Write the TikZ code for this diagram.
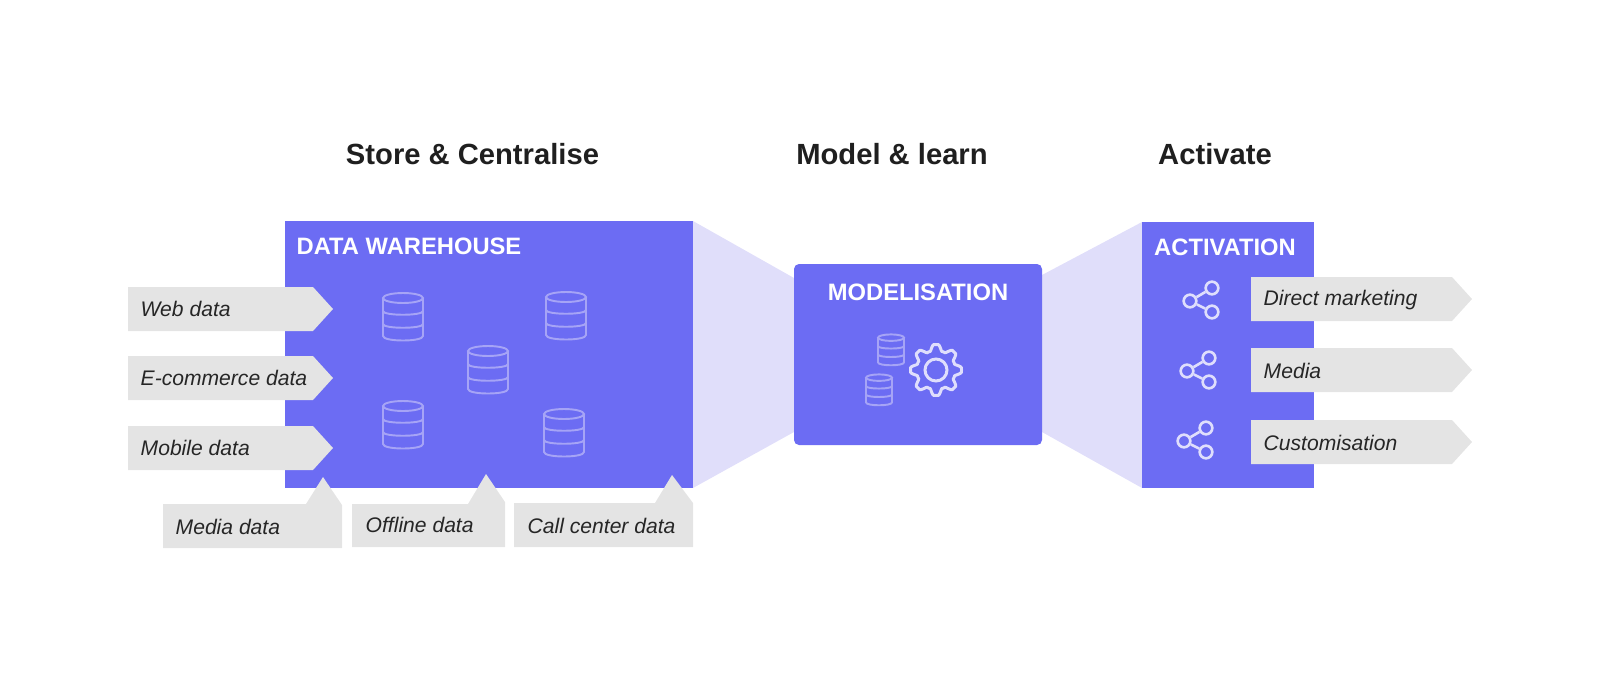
\documentclass[tikz,border=0pt]{standalone}
\usepackage{fontspec}
\setmainfont{Liberation Sans}
\usepackage{tikz}
\usetikzlibrary{calc}
\definecolor{mainblue}{HTML}{6C6CF3}
\definecolor{paleblue}{HTML}{E0DEFA}
\definecolor{taggray}{HTML}{E4E4E4}
\definecolor{dbline}{HTML}{A6A4F6}
\definecolor{iconline}{HTML}{DFDEFC}
\definecolor{tagtext}{HTML}{262626}
\tikzset{
  heading/.style={font=\bfseries\fontsize{8.3}{10}\selectfont,text=black!88,inner sep=0pt},
  boxtitle/.style={font=\bfseries\fontsize{6.75}{8}\selectfont,text=white,inner sep=0pt},
  taglabel/.style={font=\itshape\fontsize{6}{7}\selectfont,text=tagtext,anchor=west,inner sep=0pt},
  sharedot/.style={circle,draw=iconline,line width=0.75pt,minimum size=3.6pt,inner sep=0pt},
  shareline/.style={draw=iconline,line width=0.75pt},
  dbstroke/.style={draw=dbline,line width=0.55pt}
}
% database icon: x, y, scale
\newcommand{\dbicon}[3]{
  \begin{scope}[shift={(#1,#2)},scale=#3]
    \draw[dbstroke] (0,-19) circle [x radius=20,y radius=5];
    \draw[dbstroke] (-20,-19) -- (-20,19) .. controls (-20,25) and (20,25) .. (20,19) -- (20,-19);
    \draw[dbstroke] (-20,-6) .. controls (-20,-1) and (20,-1) .. (20,-6);
    \draw[dbstroke] (-20,7) .. controls (-20,12) and (20,12) .. (20,7);
  \end{scope}
}
% share icon: name, x and y of the left dot
\newcommand{\shareicon}[3]{
  \node[sharedot] (#1l) at (#2,#3) {};
  \node[sharedot] (#1t) at (#2+22,#3-13) {};
  \node[sharedot] (#1b) at (#2+22,#3+11) {};
  \draw[shareline] (#1l) -- (#1t);
  \draw[shareline] (#1l) -- (#1b);
}
\begin{document}
\begin{tikzpicture}[x=0.01cm,y=-0.01cm]
\useasboundingbox (0,0) rectangle (1600,700);

% funnels
\fill[paleblue] (693,221) -- (794,278) -- (794,432) -- (693,488) -- cycle;
\fill[paleblue] (1142,222) -- (1042,275) -- (1042,432) -- (1142,488) -- cycle;

% boxes
\fill[mainblue] (285,221) rectangle (693,488);
\fill[mainblue,rounded corners=0.05cm] (794,264) rectangle (1042,445);
\fill[mainblue] (1142,222) rectangle (1314,488);

% headings
\node[heading] (store) at (472.5,154) {Store \& Centralise};
\node[heading] (model) at (892,154) {Model \& learn};
\node[heading] (activate) at (1215,154) {Activate};

% box titles
\node[boxtitle] (warehouse) at (409,246) {DATA WAREHOUSE};
\node[boxtitle] (modelisation) at (918,292) {MODELISATION};
\node[boxtitle] (activation) at (1225,247) {ACTIVATION};

% databases
\foreach \x/\y in {403/317,403/425,566/316,488/370,564/433}{
  \dbicon{\x}{\y}{1}
}
\dbicon{891}{350}{0.65}
\dbicon{879}{390}{0.65}

% gear
\coordinate (G) at (936,370);
\draw[iconline,line width=0.85pt] (G) circle (11);
\draw[iconline,line width=0.85pt,domain=0:360,samples=145,smooth]
  plot ({936+(22.5+3*max(-1,min(1,1.5*cos(8*\x))))*cos(\x)},
        {370+(22.5+3*max(-1,min(1,1.5*cos(8*\x))))*sin(\x)}) -- cycle;

% share icons
\shareicon{sa}{1190}{301}
\shareicon{sb}{1187}{371}
\shareicon{sc}{1184}{441}

% left tags
\foreach \n/\y/\t in {web/287/Web data,ecom/356/E-commerce data,mobile/426/Mobile data}{
  \fill[taggray] (128,\y) -- (313,\y) -- (333,\y+22) -- (313,\y+44) -- (128,\y+44) -- cycle;
  \node[taglabel] (\n) at (140,\y+22) {\t};
}

% bottom tags
\fill[taggray] (163,504) -- (306,504) -- (323,477) -- (342,505) -- (342,548) -- (163,548) -- cycle;
\node[taglabel] (media) at (175,527) {Media data};
\fill[taggray] (352,504) -- (468,504) -- (486,474) -- (505,502) -- (505,547) -- (352,547) -- cycle;
\node[taglabel] (offline) at (365,525) {Offline data};
\fill[taggray] (514,503) -- (655,503) -- (672,475) -- (693,503) -- (693,547) -- (514,547) -- cycle;
\node[taglabel] (callcenter) at (527,526) {Call center data};

% right tags
\foreach \n/\y/\t in {direct/277/Direct marketing,mediaout/348/Media,custom/420/Customisation}{
  \fill[taggray] (1251,\y) -- (1452,\y) -- (1472,\y+22) -- (1452,\y+44) -- (1251,\y+44) -- cycle;
  \node[taglabel] (\n) at (1263,\y+23) {\t};
}
\end{tikzpicture}
\end{document}
